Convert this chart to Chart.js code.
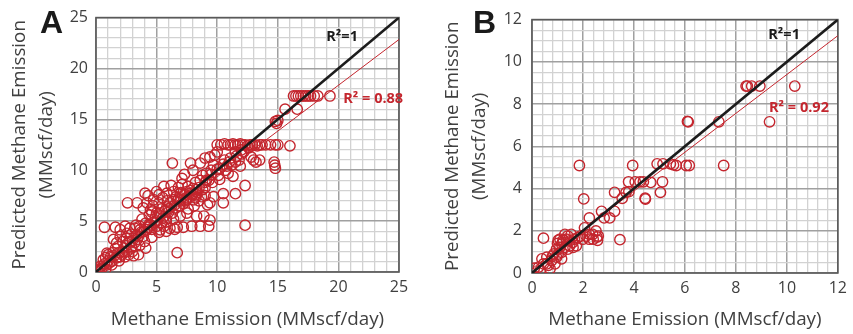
<!DOCTYPE html>
<html>
<head>
<meta charset="utf-8">
<script src="https://cdn.jsdelivr.net/npm/chart.js@4.4.1/dist/chart.umd.min.js"></script>
<style>
  html, body { margin: 0; padding: 0; background: #fff; }
  body { width: 853px; height: 334px; position: relative; overflow: hidden; }
  .panel { position: absolute; top: 0; height: 334px; }
  #panelA { left: 0; width: 425px; }
  #panelB { left: 433px; width: 420px; }
</style>
</head>
<body>
<div class="panel" id="panelA"><canvas id="chartA"></canvas></div>
<div class="panel" id="panelB"><canvas id="chartB"></canvas></div>
<script>
// Panel A: measured vs predicted methane emission (MMscf/day)
const pointsA = [
  [16.3,17.3],[16.5,17.3],[16.7,17.3],[16.9,17.3],[17.1,17.3],[17.3,17.3],[17.5,17.3],[17.7,17.3],[18.0,17.3],[18.3,17.3],[19.3,17.3],
  [15.6,16.0],[16.6,16.0],[14.8,14.8],[15.0,14.9],[14.9,14.6],
  [10.0,12.5],[10.3,12.5],[10.6,12.6],[10.9,12.5],[11.1,12.5],[11.3,12.6],[11.5,12.5],[11.7,12.5],[11.9,12.6],[12.1,12.5],[12.3,12.5],
  [12.5,12.4],[12.7,12.5],[12.9,12.5],[13.1,12.5],[13.3,12.4],[13.5,12.5],[13.7,12.5],[14.0,12.5],[14.4,12.5],[14.8,12.5],[15.0,12.5],[16.0,12.4],
  [14.7,10.8],[14.8,10.2],[14.75,10.5],[13.0,11.0],[13.5,11.0],[13.2,10.8],[12.8,11.3],
  [12.3,8.5],[12.3,4.6],[6.3,10.7],[2.6,6.8],[0.7,4.4],[6.7,1.9],[3.5,1.7],
  [9.8,11.5],[9.7,10.5],[8.6,10.7],[8.0,10.0],[7.8,10.7],[11.1,11.2],[11.8,11.0],[11.9,10.4],[11.3,9.4],[10.9,9.7],[10.2,10.2],
  [10.2,9.1],[11.5,7.7],[10.5,7.7],[9.7,7.4],[10.5,6.8],[9.4,6.8],[8.7,7.4],[7.1,9.2],[7.1,8.6],[7.5,7.9],[6.95,7.75],[6.4,7.9],
  [5.6,8.4],[5.85,7.75],[5.0,7.9],[4.75,7.1],[4.05,7.75],[4.2,6.8],[3.4,6.8],[4.5,6.1],[5.0,5.8],[5.85,6.4],[6.4,7.1],[6.95,7.1],
  [7.5,7.1],[8.05,7.1],[8.3,8.1],[8.6,9.0],[9.1,9.0],[9.1,9.7],[9.4,11.3],[9.0,11.2],[10.0,11.8],[10.6,11.0],[11.5,10.8],[12.0,11.6],
  [10.8,10.4],[9.5,10.0],[8.8,9.5],[8.2,8.8],[7.6,8.4],[7.3,9.6],[6.8,8.3],[6.2,8.5],[5.5,7.3],[5.2,6.8],[4.7,6.5],[3.9,6.3],
  [4.4,5.6],[5.3,5.5],[6.0,5.9],[6.6,6.3],[7.2,6.7],[7.9,7.6],[8.4,7.8],[9.0,8.3],[9.6,8.8],[10.1,9.5],[10.7,10.0],[11.2,10.5],
  [11.6,11.4],[12.2,11.8],[12.6,12.2],
  [6.95,5.5],[7.5,5.8],[8.3,5.5],[8.9,5.5],[9.4,5.1],[9.3,4.5],[8.6,4.5],[7.9,4.5],[7.2,4.4],[6.7,4.4],[6.1,4.3],[5.6,4.5],
  [5.3,4.15],[5.0,4.5],[4.2,4.15],[7.6,6.2],[8.1,6.5],[6.4,5.2],[5.8,4.9],
  [1.6,4.4],[2.0,4.15],[2.4,4.5],[2.8,4.3],[3.2,4.3],[3.65,4.15],[2.55,3.8],[2.0,3.5],[1.45,3.2],[1.7,2.85],[2.3,2.35],[2.95,2.5],
  [3.4,3.2],[3.9,3.5],[4.1,2.35],[2.7,1.7],[2.0,1.5],[1.2,1.5],[0.9,1.85],[0.6,1.2],[0.35,0.55],[0.15,0.15],[0.1,0.0],[0.5,0.4],
  [0.9,0.7],[1.3,1.05],[1.7,1.4],[2.15,1.7],[2.55,2.0],[2.95,2.35],
  [3.5,3.5],[4.0,4.0],[4.5,4.6],[5.0,5.0],[5.5,5.3],[6.0,6.2],[6.5,6.6],[7.0,7.0],[7.5,7.3],[8.0,8.2],[8.5,8.3],[9.0,8.8],
  [9.5,9.6],[10.0,10.1],[10.5,10.6],[11.0,10.8],[11.5,11.8],[12.0,12.0],[3.0,3.1],[2.5,2.6],[1.0,1.1],[1.5,1.6],[2.2,2.0],[3.2,2.9],
  [3.7,3.9],[4.3,4.4],[4.8,4.9],[5.2,5.6],[5.7,6.0],[6.2,6.4],[6.8,7.2],[7.3,7.6],[7.8,8.0],[0.3,0.3],[0.7,0.8],[1.1,0.9],
  [1.9,1.9],[2.8,3.0],[3.3,3.6],[4.6,4.2],[5.4,4.8],[6.3,5.8],[6.9,6.5],[8.3,7.6],[8.8,8.1],[9.3,9.0],
  [5.2,7.6],[5.4,6.2],[5.9,7.0],[6.1,6.8],[6.6,7.4],[7.0,7.8],[7.4,7.0],[7.7,7.7],[8.2,7.3],[8.5,7.0],[9.0,7.5],[9.2,6.6],
  [4.3,7.5],[4.6,5.9],[3.8,5.2],[4.1,4.8],[3.3,4.6],[2.9,3.7],[2.2,3.0],[1.6,2.3],[1.0,1.7],[0.8,1.4],[1.4,1.9],[1.8,2.5],
  [2.5,3.3],[3.6,4.5],[4.9,5.4],[4.4,4.7],[5.8,5.2],
  [1.9,1.1],[2.4,1.5],[3.0,2.0],[3.6,2.6],[4.0,3.0],[4.6,3.4],[5.2,3.9],[5.8,4.0],[6.5,4.2],[3.1,1.6],[1.3,0.7],[0.8,0.3]
];
const fitA = { slope: 0.9, intercept: 0.35 };
const axisMaxA = 25;

// Panel B
const pointsB = [
  [1.86,5.09],[3.95,5.09],[4.91,5.17],[5.14,5.17],[5.43,5.17],[5.66,5.09],[5.55,5.12],[6.05,5.09],[6.17,5.09],[7.52,5.09],
  [6.13,7.16],[6.10,7.18],[7.33,7.16],[9.32,7.16],[8.40,8.85],[8.45,8.85],[8.62,8.85],[8.94,8.85],[10.31,8.85],
  [2.03,3.51],[3.24,3.82],[3.79,4.32],[4.05,4.32],[4.24,4.32],[4.37,4.32],[4.66,4.29],[4.44,3.54],[4.45,3.50],[5.04,3.82],
  [5.12,4.32],[3.54,3.54],[3.69,3.82],[3.80,3.85],[2.73,2.92],[3.24,2.92],[3.05,2.61],[2.83,2.61],[2.25,2.61],[3.45,1.58],[0.45,1.65],
  [0.09,0.23],[0.26,0.28],[0.32,0.12],[0.45,0.43],[0.39,0.67],[0.58,0.75],[0.64,0.36],[0.71,0.20],[0.77,0.59],[0.96,0.75],
  [0.90,0.43],[1.16,0.67],[1.03,0.90],[1.09,1.21],[0.96,1.13],[1.03,1.55],[1.22,1.55],[1.16,1.37],[1.29,1.83],[1.35,1.60],
  [1.48,1.52],[1.54,1.83],[1.48,1.29],[1.61,1.21],[1.74,1.29],[1.67,1.60],[1.80,1.68],[1.29,1.21],[1.41,1.13],[0.58,0.43],
  [0.86,0.90],[1.16,0.98],[1.99,1.60],[2.12,1.75],[2.25,1.60],[2.38,1.83],[2.57,1.55],[2.60,1.75],[2.51,1.99],[2.25,1.83],
  [2.06,2.14],[1.10,1.60],[1.20,1.45],[1.40,1.75],[1.60,1.45],[1.90,1.75],[2.40,1.60],[2.55,1.70],[0.80,0.80],[1.00,1.40]
];
const fitB = { slope: 0.92, intercept: 0.2 };
const axisMaxB = 12;

const red = '#c4262e';
const fontFamily = '"Open Sans", sans-serif';

const framePlugin = {
  id: 'frame',
  beforeDatasetsDraw(chart) {
    const a = chart.chartArea, ctx = chart.ctx;
    ctx.save();
    ctx.strokeStyle = '#595959';
    ctx.lineWidth = 1.6;
    ctx.strokeRect(a.left, a.top, a.right - a.left, a.bottom - a.top);
    ctx.restore();
  },
  afterDraw(chart, args, opts) {
    const ctx = chart.ctx;
    const xs = chart.scales.x, ys = chart.scales.y;
    ctx.save();
    ctx.font = 'bold 32px "Liberation Sans", Arial, sans-serif';
    ctx.fillStyle = '#1a1a1a';
    ctx.textBaseline = 'alphabetic';
    ctx.fillText(opts.letter, 40, 33);
    ctx.font = 'bold 14.5px ' + fontFamily;
    ctx.textBaseline = 'middle';
    opts.notes.forEach(n => {
      ctx.fillStyle = n.color;
      ctx.fillText(n.text, xs.getPixelForValue(n.x), ys.getPixelForValue(n.y));
    });
    ctx.restore();
  }
};

function isMajor(v, major) {
  const r = v / major;
  return Math.abs(r - Math.round(r)) < 1e-6;
}

function makeChart(id, points, fit, max, cfg) {
  const ctx = document.getElementById(id).getContext('2d');
  return new Chart(ctx, {
    type: 'scatter',
    data: {
      datasets: [
        {
          data: points.map(p => ({ x: p[0], y: p[1] })),
          pointStyle: 'circle',
          pointRadius: cfg.radius,
          pointBorderWidth: 1.4,
          pointBorderColor: red,
          pointBackgroundColor: 'rgba(0,0,0,0)',
          order: 3
        },
        {
          type: 'line',
          data: [{ x: 0, y: fit.intercept }, { x: max, y: fit.slope * max + fit.intercept }],
          borderColor: red,
          borderWidth: 1,
          pointRadius: 0,
          order: 2
        },
        {
          type: 'line',
          data: [{ x: 0, y: 0 }, { x: max, y: max }],
          borderColor: '#1c1c1c',
          borderWidth: 2.6,
          pointRadius: 0,
          order: 1
        }
      ]
    },
    options: {
      responsive: true,
      maintainAspectRatio: false,
      animation: false,
      events: [],
      layout: { padding: { top: cfg.top, right: cfg.right, bottom: 0, left: 0 } },
      plugins: {
        legend: { display: false },
        tooltip: { enabled: false },
        frame: { letter: cfg.letter, notes: cfg.notes }
      },
      scales: {
        x: {
          type: 'linear',
          min: 0,
          max: max,
          afterFit(scale) { scale.height = cfg.xHeight; },
          border: { display: false },
          grid: {
            drawTicks: false,
            color: c => isMajor(c.tick.value, cfg.xMajor) ? '#a0a0a0' : '#d2d2d2',
            lineWidth: c => isMajor(c.tick.value, cfg.xMajor) ? 1.5 : 1.3
          },
          ticks: {
            stepSize: cfg.xMinor,
            autoSkip: false,
            maxRotation: 0,
            padding: 6,
            color: '#404040',
            font: { family: fontFamily, size: 16 },
            callback: v => isMajor(v, cfg.xMajor) ? String(Math.round(v)) : ''
          },
          title: {
            display: true,
            text: 'Methane Emission (MMscf/day)',
            color: '#404040',
            font: { family: fontFamily, size: 18.8, lineHeight: 1.2 },
            padding: { top: 0, bottom: 3 }
          }
        },
        y: {
          type: 'linear',
          min: 0,
          max: max,
          afterFit(scale) { scale.width = cfg.yWidth; },
          border: { display: false },
          grid: {
            drawTicks: false,
            color: c => isMajor(c.tick.value, cfg.yMajor) ? '#a0a0a0' : '#d2d2d2',
            lineWidth: c => isMajor(c.tick.value, cfg.yMajor) ? 1.5 : 1.3
          },
          ticks: {
            stepSize: cfg.yMinor,
            autoSkip: false,
            padding: cfg.yPad,
            color: '#404040',
            font: { family: fontFamily, size: 16 },
            callback: v => isMajor(v, cfg.yMajor) ? String(Math.round(v)) : ''
          },
          title: {
            display: true,
            text: ['Predicted Methane Emission', '(MMscf/day)'],
            color: '#404040',
            font: { family: fontFamily, size: 18.8, lineHeight: 1.44 },
            padding: { top: 6.5, bottom: 0 }
          }
        }
      }
    },
    plugins: [framePlugin]
  });
}

makeChart('chartA', pointsA, fitA, axisMaxA, {
  letter: 'A', radius: 5.2, top: 17, right: 26, xHeight: 62, yWidth: 96, yPad: 8,
  xMajor: 5, xMinor: 1, yMajor: 5, yMinor: 1,
  notes: [
    { text: 'R\u00b2=1', x: 19.0, y: 23.1, color: '#1a1a1a' },
    { text: 'R\u00b2 = 0.88', x: 20.4, y: 17.0, color: red }
  ]
});

makeChart('chartB', pointsB, fitB, axisMaxB, {
  letter: 'B', radius: 5.2, top: 15, right: 10, xHeight: 61, yWidth: 99, yPad: 10,
  xMajor: 2, xMinor: 0.4, yMajor: 2, yMinor: 0.5,
  notes: [
    { text: 'R\u00b2=1', x: 9.27, y: 11.26, color: '#1a1a1a' },
    { text: 'R\u00b2 = 0.92', x: 9.3, y: 7.8, color: red }
  ]
});
</script>
</body>
</html>
